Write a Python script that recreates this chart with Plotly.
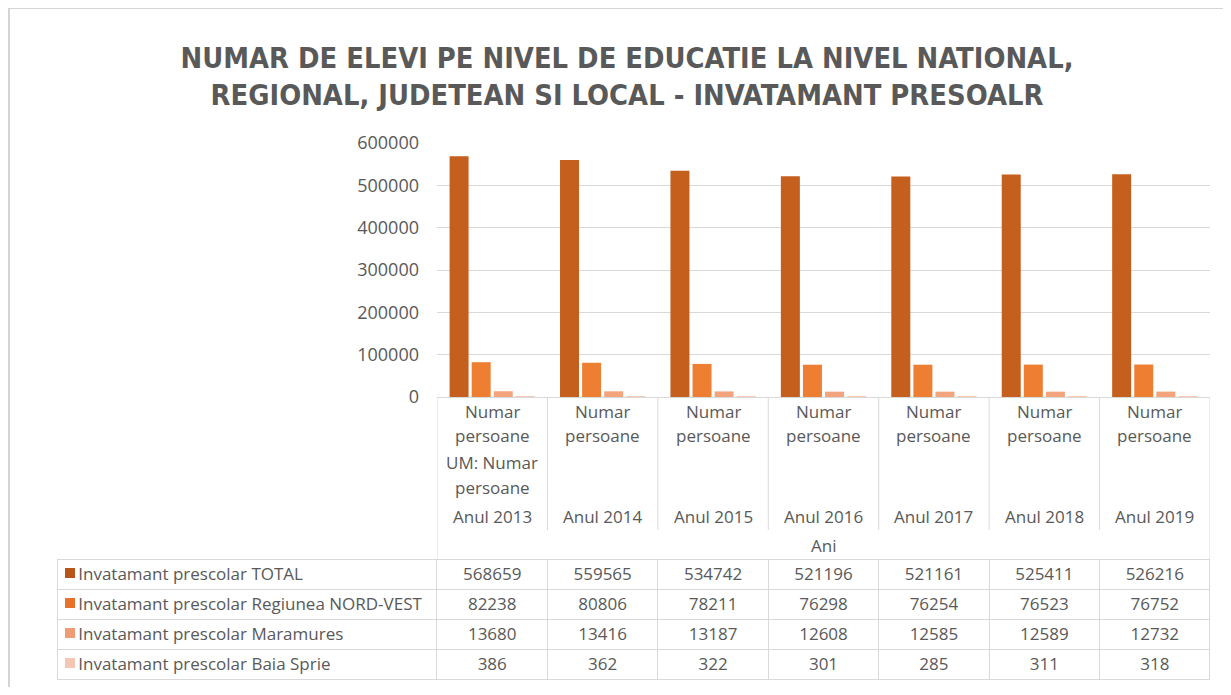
import plotly.graph_objects as go

FW, FH = 1215, 679   # figure size (page body adds 8px margin)
OFF = 8

years = ["Anul 2013", "Anul 2014", "Anul 2015", "Anul 2016", "Anul 2017", "Anul 2018", "Anul 2019"]
series_names = [
    "Invatamant prescolar TOTAL",
    "Invatamant prescolar Regiunea NORD-VEST",
    "Invatamant prescolar Maramures",
    "Invatamant prescolar Baia Sprie",
]
total = [568659, 559565, 534742, 521196, 521161, 525411, 526216]
nord_vest = [82238, 80806, 78211, 76298, 76254, 76523, 76752]
maramures = [13680, 13416, 13187, 12608, 12585, 12589, 12732]
baia_sprie = [386, 362, 322, 301, 285, 311, 318]
colors = ["#c45f1e", "#ee7f32", "#f3a47c", "#f7c9b3"]
key_colors = ["#b8561a", "#e9722a", "#ef9b74", "#f5c6b3"]

all_series = [total, nord_vest, maramures, baia_sprie]
axis_title = "Ani"
title = "NUMAR DE ELEVI PE NIVEL DE EDUCATIE LA NIVEL NATIONAL,<br>REGIONAL, JUDETEAN SI LOCAL - INVATAMANT PRESOALR"

TXT = "#595959"
GRID = "#d9d9d9"
FONT = "Open Sans"
FS = 17
NB = "\u00a0"


def px(x):
    return (x - OFF) / FW


def py(y):
    return 1 - (y - OFF) / FH


fig = go.Figure()
for name, vals, c in zip(series_names, all_series, colors):
    fig.add_trace(go.Bar(x=years, y=vals, name=name, marker=dict(color=c, line=dict(width=0)),
                         xaxis="x", yaxis="y"))

# data table (acts as legend); non-breaking spaces keep each label on one line
label_cells = [NB * 3 + n.replace(" ", NB) for n in series_names]
columns = [label_cells] + [[str(s[i]) for s in all_series] for i in range(len(years))]
header_vals = [c[0] for c in columns]
cell_vals = [c[1:] for c in columns]
fig.add_trace(go.Table(
    domain=dict(x=[px(57), px(1210)], y=[py(681), py(559)]),
    columnwidth=[380] + [110.43] * 7,
    header=dict(values=header_vals, height=30, align=["left"] + ["center"] * 7,
                fill_color="white", line=dict(color=GRID, width=1),
                font=dict(family=FONT, size=FS, color=TXT)),
    cells=dict(values=cell_vals, height=30, align=["left"] + ["center"] * 7,
               fill_color="white", line=dict(color=GRID, width=1),
               font=dict(family=FONT, size=FS, color=TXT)),
))

font_ann = dict(family=FONT, size=FS, color=TXT)
annotations = []
for i, yr in enumerate(years):
    for txt, yy in (("Numar", 411), ("persoane", 435), (yr, 516)):
        annotations.append(dict(x=yr, y=py(yy), xref="x", yref="paper", text=txt, showarrow=False,
                                yanchor="middle", font=font_ann))
for txt, yy in (("UM: Numar", 463), ("persoane", 487)):
    annotations.append(dict(x=years[0], y=py(yy), xref="x", yref="paper", text=txt, showarrow=False,
                            yanchor="middle", font=font_ann))
annotations.append(dict(x=years[3], y=py(545), xref="x", yref="paper", text=axis_title, showarrow=False,
                        yanchor="middle", font=font_ann))

shapes = []
n = len(years)
for k in range(n + 1):
    xb = k - 0.5
    bottom = 559 if k in (0, n) else 530
    shapes.append(dict(type="line", xref="x", yref="paper", x0=xb, x1=xb, y0=py(397), y1=py(bottom),
                       line=dict(color=GRID, width=1)))
# legend keys inside the table
for j, kc in enumerate(key_colors):
    yc = 573 + 30 * j
    shapes.append(dict(type="rect", xref="paper", yref="paper", x0=px(65), x1=px(75),
                       y0=py(yc + 5), y1=py(yc - 5), line=dict(width=0), fillcolor=kc))
# outer frame
shapes.append(dict(type="rect", xref="paper", yref="paper", x0=px(9), x1=1.05, y0=-0.05, y1=py(8),
                   line=dict(color="#d4d4d4", width=2), fillcolor="rgba(0,0,0,0)"))

fig.update_layout(
    width=FW, height=FH,
    margin=dict(l=0, r=0, t=0, b=0, autoexpand=False),
    paper_bgcolor="white", plot_bgcolor="white",
    barmode="group", bargap=0.2, bargroupgap=0.14,
    showlegend=False,
    title=dict(text=title, x=px(627), xanchor="center", y=py(68), yanchor="middle",
               yref="container", xref="container",
               font=dict(family="Liberation Sans Narrow, DejaVu Sans Condensed, Open Sans", size=28.8,
                         color=TXT, weight="bold")),
    xaxis=dict(domain=[px(437), px(1210)], showticklabels=False, showgrid=False, ticks="",
               showline=True, linecolor=GRID, linewidth=1, anchor="y", range=[-0.5, 6.5]),
    yaxis=dict(domain=[py(397), py(143)], range=[0, 600000], dtick=100000, tickformat="d",
               showgrid=True, gridcolor=GRID, gridwidth=1, zeroline=False, showline=False,
               tickfont=dict(family=FONT, size=18, color=TXT), ticklabelstandoff=17, anchor="x"),
    annotations=annotations,
    shapes=shapes,
)

fig.write_html("out.html")
